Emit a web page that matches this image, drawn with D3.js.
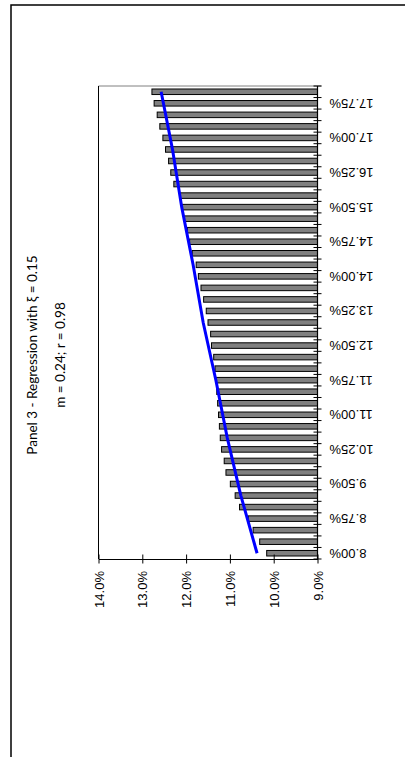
<!DOCTYPE html>
<html lang="en">
<head>
<meta charset="UTF-8">
<title>Panel 3</title>
<script src="https://cdn.jsdelivr.net/npm/d3@7"></script>
<style>
  body { margin: 0; background: #fff; }
  .lbl { font-family: "Liberation Sans", Arial, sans-serif; font-size: 13px; fill: #000; }
  .ttl { font-family: Lato, "Liberation Sans", sans-serif; font-size: 13.5px; fill: #000; }
</style>
</head>
<body>
<script>
// categories (bottom to top in the rotated chart)
var categories = ["8.00%","8.25%","8.50%","8.75%","9.00%","9.25%","9.50%","9.75%",
  "10.00%","10.25%","10.50%","10.75%","11.00%","11.25%","11.50%","11.75%",
  "12.00%","12.25%","12.50%","12.75%","13.00%","13.25%","13.50%","13.75%",
  "14.00%","14.25%","14.50%","14.75%","15.00%","15.25%","15.50%","15.75%",
  "16.00%","16.25%","16.50%","16.75%","17.00%","17.25%","17.50%","17.75%","18.00%"];

// bar values in %
var barValues = [10.16,10.32,10.47,10.58,10.78,10.88,10.99,11.09,
  11.13,11.19,11.22,11.24,11.26,11.28,11.30,11.32,
  11.34,11.37,11.42,11.44,11.50,11.54,11.60,11.66,
  11.72,11.77,11.86,11.92,11.97,12.05,12.10,12.14,
  12.28,12.35,12.40,12.47,12.53,12.60,12.66,12.73,12.78];

// regression line, read at a few categories
var lineCats = ["8.00%","9.25%","10.50%","11.75%","13.00%","14.25%","15.50%","16.75%","18.00%"];
var lineValues = [10.38,10.75,11.06,11.32,11.61,11.84,12.10,12.31,12.57];

var catLabels = ["8.00%","8.75%","9.50%","10.25%","11.00%","11.75%","12.50%",
  "13.25%","14.00%","14.75%","15.50%","16.25%","17.00%","17.75%"];
var valueTicks = [9, 10, 11, 12, 13, 14];

var title1 = "Panel 3 -  Regression with \u03BE = 0.15";
var title2 = "m = 0.24; r = 0.98";

var W = 405, H = 757;
var pLeft = 98.5, pRight = 317.5, pTop = 86, pBottom = 559;

var svg = d3.select("body").append("svg")
  .attr("width", W).attr("height", H);

// outer frame
svg.append("rect")
  .attr("x", 11).attr("y", 5).attr("width", 420).attr("height", 780)
  .attr("fill", "none").attr("stroke", "#000").attr("stroke-width", 1.5);

var x = d3.scaleLinear().domain([9, 14]).range([pRight, pLeft]);
var y = d3.scaleBand().domain(categories).range([pBottom, pTop])
  .paddingInner(0.52).paddingOuter(0.26);
var step = y.step(), bw = y.bandwidth();

// plot area border
svg.append("line").attr("x1", pLeft).attr("x2", pRight + 4).attr("y1", pTop).attr("y2", pTop)
  .attr("stroke", "#808080").attr("stroke-width", 1);
svg.append("line").attr("x1", pLeft).attr("x2", pLeft).attr("y1", pTop).attr("y2", pBottom)
  .attr("stroke", "#000").attr("stroke-width", 1);

// bars
svg.selectAll("rect.bar").data(barValues).enter().append("rect")
  .attr("class", "bar")
  .attr("x", function(d) { return x(d); })
  .attr("y", function(d, i) { return y(categories[i]); })
  .attr("width", function(d) { return x(9) - x(d); })
  .attr("height", bw)
  .attr("fill", "#808080").attr("stroke", "#000").attr("stroke-width", 1);

// regression line
var line = d3.line()
  .x(function(d) { return x(d.v); })
  .y(function(d) { return y(d.c) + bw / 2; });
svg.append("path")
  .datum(lineCats.map(function(c, i) { return {c: c, v: lineValues[i]}; }))
  .attr("d", line)
  .attr("fill", "none").attr("stroke", "#0000ff").attr("stroke-width", 3);

// value axis (bottom)
var vAxis = svg.append("g").attr("transform", "translate(0," + pBottom + ")")
  .call(d3.axisBottom(x).tickValues(valueTicks).tickSize(0)
    .tickFormat(function(d) { return d.toFixed(1) + "%"; }));
vAxis.select(".domain").attr("stroke", "#000").attr("stroke-width", 1.2);
vAxis.selectAll(".tick line").attr("y1", -4.5).attr("y2", 4.5).attr("stroke", "#000");
vAxis.selectAll(".tick text")
  .attr("class", "lbl")
  .attr("font-family", null).attr("font-size", null)
  .attr("text-anchor", "end")
  .attr("x", 0).attr("y", 0).attr("dy", "0.35em")
  .attr("transform", "translate(0,12) rotate(-90)");

// category axis (right)
var cAxis = svg.append("g");
cAxis.append("line").attr("x1", pRight).attr("x2", pRight).attr("y1", pTop).attr("y2", pBottom)
  .attr("stroke", "#000").attr("stroke-width", 1.2);
var bounds = categories.map(function(c) { return y(c) + bw + (step - bw) / 2; });
bounds.push(pTop);
cAxis.selectAll("line.tk").data(bounds).enter().append("line")
  .attr("class", "tk")
  .attr("x1", pRight - 4).attr("x2", pRight + 4)
  .attr("y1", function(d) { return d; }).attr("y2", function(d) { return d; })
  .attr("stroke", "#000").attr("stroke-width", 1);
cAxis.selectAll("text").data(catLabels).enter().append("text")
  .attr("class", "lbl")
  .attr("text-anchor", "end")
  .attr("dy", "0.35em")
  .attr("transform", function(d) {
    return "translate(" + (pRight + 12) + "," + (y(d) + bw / 2) + ") rotate(180)";
  })
  .text(function(d) { return d; });

// title
var tc = 355;
svg.append("text").attr("class", "ttl").attr("text-anchor", "middle")
  .attr("transform", "translate(37," + tc + ") rotate(-90)")
  .text(title1);
svg.append("text").attr("class", "ttl").attr("text-anchor", "middle")
  .attr("transform", "translate(65," + tc + ") rotate(-90)")
  .text(title2);
</script>
</body>
</html>
